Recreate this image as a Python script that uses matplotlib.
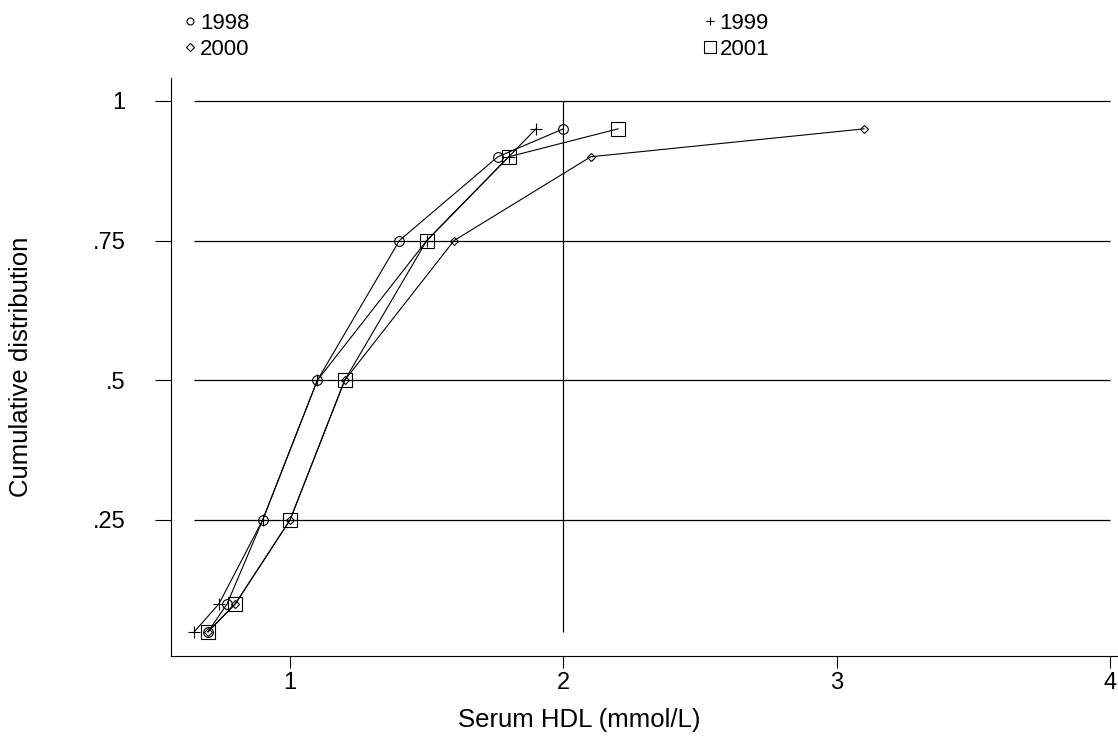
import matplotlib.pyplot as plt
import numpy as np

plt.rcParams['font.family'] = ['Liberation Sans', 'DejaVu Sans']

# cumulative probabilities
probs = [0.05, 0.1, 0.25, 0.5, 0.75, 0.9, 0.95]
# serum HDL quantiles per year
hdl_1998 = [0.7, 0.77, 0.9, 1.1, 1.4, 1.76, 2.0]
hdl_1999 = [0.65, 0.74, 0.9, 1.1, 1.5, 1.8, 1.9]
hdl_2000 = [0.7, 0.8, 1.0, 1.2, 1.6, 2.1, 3.1]
hdl_2001 = [0.7, 0.8, 1.0, 1.2, 1.5, 1.8, 2.2]

xticks = [1, 2, 3, 4]
yticks = [0.25, 0.5, 0.75, 1]
ytick_labels = ['.25', '.5', '.75', '1']

fig = plt.figure(figsize=(11.18, 7.46), dpi=100)
ax = fig.add_axes([171 / 1118, 1 - 656 / 746, (1118 - 171) / 1118, (656 - 78) / 746])

xmin_data = min(hdl_1999)
# horizontal grid lines and reference line at 2
ax.hlines(yticks, xmin_data, 4, color='black', lw=0.9)
ax.vlines(2, min(probs), 1, color='black', lw=0.9)

kw = dict(color='black', lw=0.8, mfc='none', mec='black', mew=0.8)
l98, = ax.plot(hdl_1998, probs, marker='o', ms=7, label='1998', **kw)
l99, = ax.plot(hdl_1999, probs, marker='+', ms=8, label='1999', **kw)
l00, = ax.plot(hdl_2000, probs, marker='D', ms=4.5, label='2000', **kw)
l01, = ax.plot(hdl_2001, probs, marker='s', ms=10, label='2001', **kw)

ax.set_xlim(0.5646, 4.029)
ax.set_ylim(0.0066, 1.041)
ax.set_xticks(xticks)
ax.set_xticklabels([str(t) for t in xticks])
ax.set_yticks(yticks)
ax.set_yticklabels(ytick_labels)
ax.spines['top'].set_visible(False)
ax.spines['right'].set_visible(False)
ax.tick_params(axis='y', length=11.5, width=0.8, pad=21, labelsize=17)
ax.tick_params(axis='x', length=8.5, width=0.8, pad=3, labelsize=17)

ax.set_xlabel('Serum HDL (mmol/L)', fontsize=18.5)
ax.xaxis.set_label_coords((579 - 171) / (1118 - 171), -0.09)
ax.set_ylabel('Cumulative distribution', fontsize=18.5)
ax.yaxis.set_label_coords(-0.1457, 0.5)

# marker-only handles for the legend
hs = []
for m, s in [('o', 5), ('D', 4), ('+', 6), ('s', 9)]:
    h, = ax.plot([], [], ls='none', marker=m, ms=s, mfc='none', mec='black', mew=0.8)
    hs.append(h)
fig.legend(hs, ['1998', '2000', '1999', '2001'], ncol=2, loc='upper left',
           bbox_to_anchor=(168 / 1118, 1.004), frameon=False, fontsize=16,
           handlelength=0.6, handletextpad=0.15, columnspacing=20.4,
           labelspacing=0.25, borderpad=0.2)

fig.savefig('out.png', dpi=100)
